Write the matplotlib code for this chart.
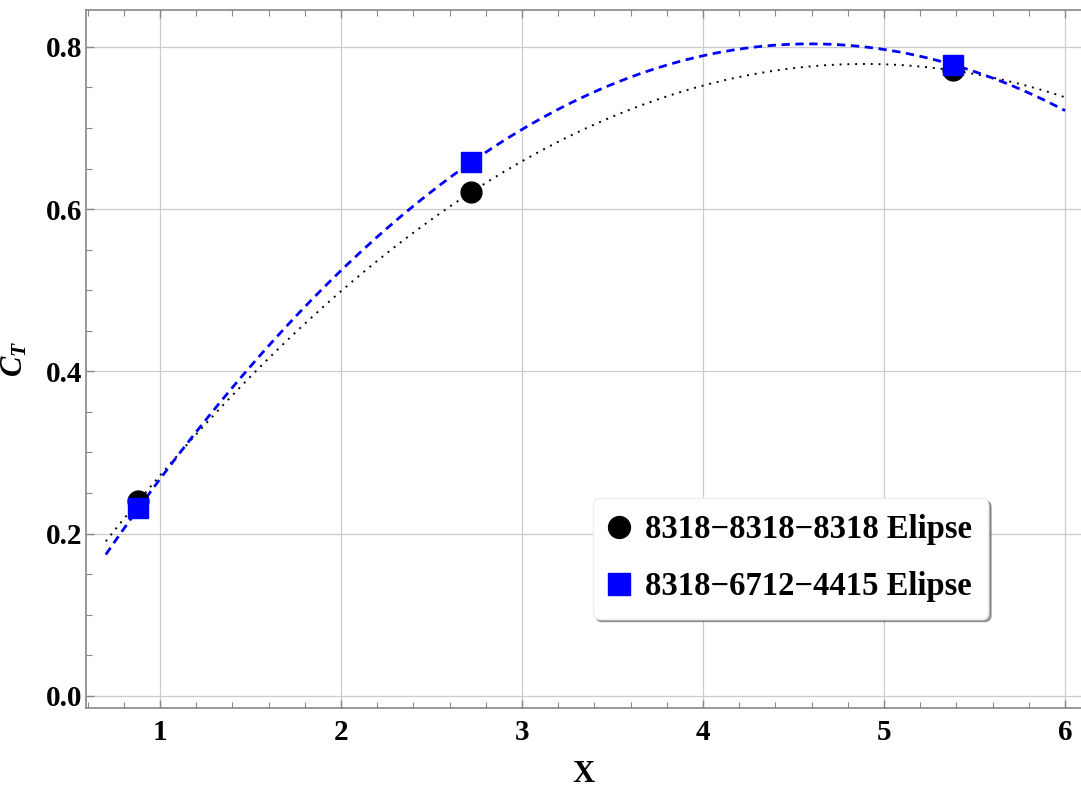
import matplotlib
matplotlib.use('Agg')
import matplotlib.pyplot as plt
import numpy as np

plt.rcParams['font.family'] = ['Liberation Serif', 'DejaVu Serif']
plt.rcParams['font.weight'] = 'bold'
plt.rcParams['mathtext.fontset'] = 'custom'
plt.rcParams['mathtext.it'] = 'Liberation Serif:italic:bold'
plt.rcParams['mathtext.rm'] = 'Liberation Serif:bold'

# data
x_pts = [0.88, 2.72, 5.38]
ct_8318 = [0.240, 0.621, 0.771]
ct_4415 = [0.231, 0.658, 0.778]
labels = ["8318\u22128318\u22128318 Elipse", "8318\u22126712\u22124415 Elipse"]

# quadratic fits through each set (curves in the original are fits)
xs = np.linspace(0.7, 6.0, 300)
fit_a = np.polyval(np.polyfit(x_pts, ct_8318, 2), xs)
fit_b = np.polyval(np.polyfit(x_pts, ct_4415, 2), xs)

fig = plt.figure(figsize=(10.81, 7.87), dpi=100)
ax = fig.add_axes([0.0796, 0.1004, 0.9204, 0.8869])

ax.plot(xs, fit_a, color='black', linestyle=(0, (1, 3)), linewidth=1.4)
ax.plot(xs, fit_b, color='blue', linestyle=(0, (3, 2)), linewidth=2.0)

ax.plot(x_pts, ct_8318, 'o', color='black', markersize=15, linestyle='none',
        label=labels[0])
ax.plot(x_pts, ct_4415, 's', color='blue', markersize=15, linestyle='none',
        label=labels[1])

ax.set_xlim(0.591, 6.088)
ax.set_ylim(-0.015, 0.8455)
ax.set_xticks([1, 2, 3, 4, 5, 6])
ax.set_yticks([0.0, 0.2, 0.4, 0.6, 0.8])
ax.set_yticklabels(['0.0', '0.2', '0.4', '0.6', '0.8'])
ax.set_xticks(np.arange(0.6, 6.1, 0.2), minor=True)
ax.set_yticks(np.arange(0.0, 0.85, 0.05), minor=True)

ax.tick_params(which='both', direction='in', top=True, right=False,
               color='#888888', labelsize=21)
ax.tick_params(axis='y', pad=3)
ax.tick_params(axis='x', pad=8)
ax.tick_params(which='major', length=6, width=1)
ax.tick_params(which='minor', length=4, width=0.8)
for lab in ax.get_xticklabels() + ax.get_yticklabels():
    lab.set_fontweight('bold')

for s in ['left', 'bottom', 'top']:
    ax.spines[s].set_color('#888888')
    ax.spines[s].set_linewidth(1.2)
ax.spines['right'].set_visible(False)

ax.grid(True, which='major', color='#cccccc', linewidth=0.9)
ax.set_axisbelow(True)

ax.set_xlabel('X', fontsize=22, fontweight='bold', labelpad=10)
ax.set_ylabel(r'$C_T$', fontsize=22)
ax.yaxis.set_label_coords(-0.057, 0.5)

leg = ax.legend(loc='upper left', bbox_to_anchor=(0.5486, 0.3672),
                bbox_transform=fig.transFigure, borderaxespad=0,
                fancybox=True, shadow=True, framealpha=1,
                prop={'family': 'Liberation Serif', 'weight': 'bold', 'size': 23.5},
                handletextpad=0.49, labelspacing=0.8, borderpad=0.5,
                handlelength=0.6, markerscale=1.05)
leg.get_frame().set_edgecolor('#eeeeee')

plt.savefig('out.png', dpi=100)
